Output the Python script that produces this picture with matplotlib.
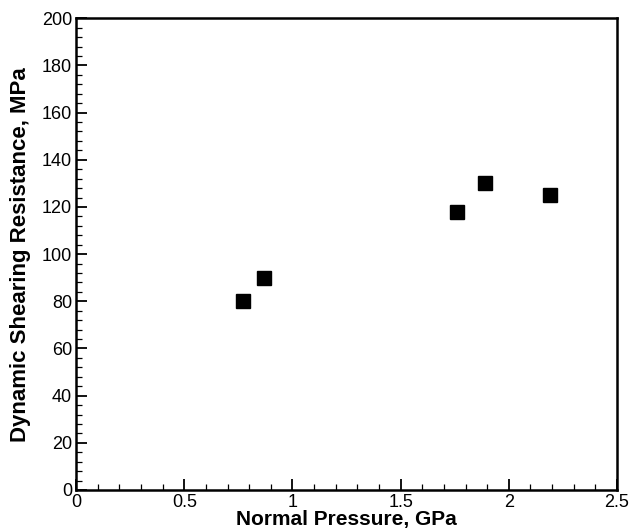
import matplotlib
matplotlib.use('Agg')
import matplotlib.pyplot as plt
from matplotlib.ticker import AutoMinorLocator

# data
pressure = [0.77, 0.87, 1.76, 1.89, 2.19]      # GPa
resistance = [80, 90, 118, 130, 125]           # MPa

plt.rcParams['font.family'] = ['Liberation Sans', 'DejaVu Sans']

fig = plt.figure(figsize=(6.29, 5.30), dpi=100)
ax = fig.add_axes([0.121, 0.0755, 0.860, 0.890])

ax.plot(pressure, resistance, 's', color='black', markersize=9.5, linestyle='none')

ax.set_xlim(0, 2.5)
ax.set_ylim(0, 200)
ax.set_xticks([0, 0.5, 1, 1.5, 2, 2.5])
ax.set_xticklabels(['0', '0.5', '1', '1.5', '2', '2.5'])
ax.set_yticks(range(0, 201, 20))
ax.xaxis.set_minor_locator(AutoMinorLocator(5))
ax.yaxis.set_minor_locator(AutoMinorLocator(5))

ax.tick_params(which='both', direction='in', top=False, right=False, labelsize=13)
ax.tick_params(which='major', length=8, width=1.3, pad=3)
ax.tick_params(which='minor', length=4, width=0.9)
for s in ax.spines.values():
    s.set_linewidth(1.8)

ax.set_xlabel('Normal Pressure, GPa', fontsize=15, fontweight='bold', labelpad=-1)
ax.set_ylabel('Dynamic Shearing Resistance, MPa', fontsize=16, fontweight='bold', labelpad=8)

plt.savefig('out.png', dpi=100)
